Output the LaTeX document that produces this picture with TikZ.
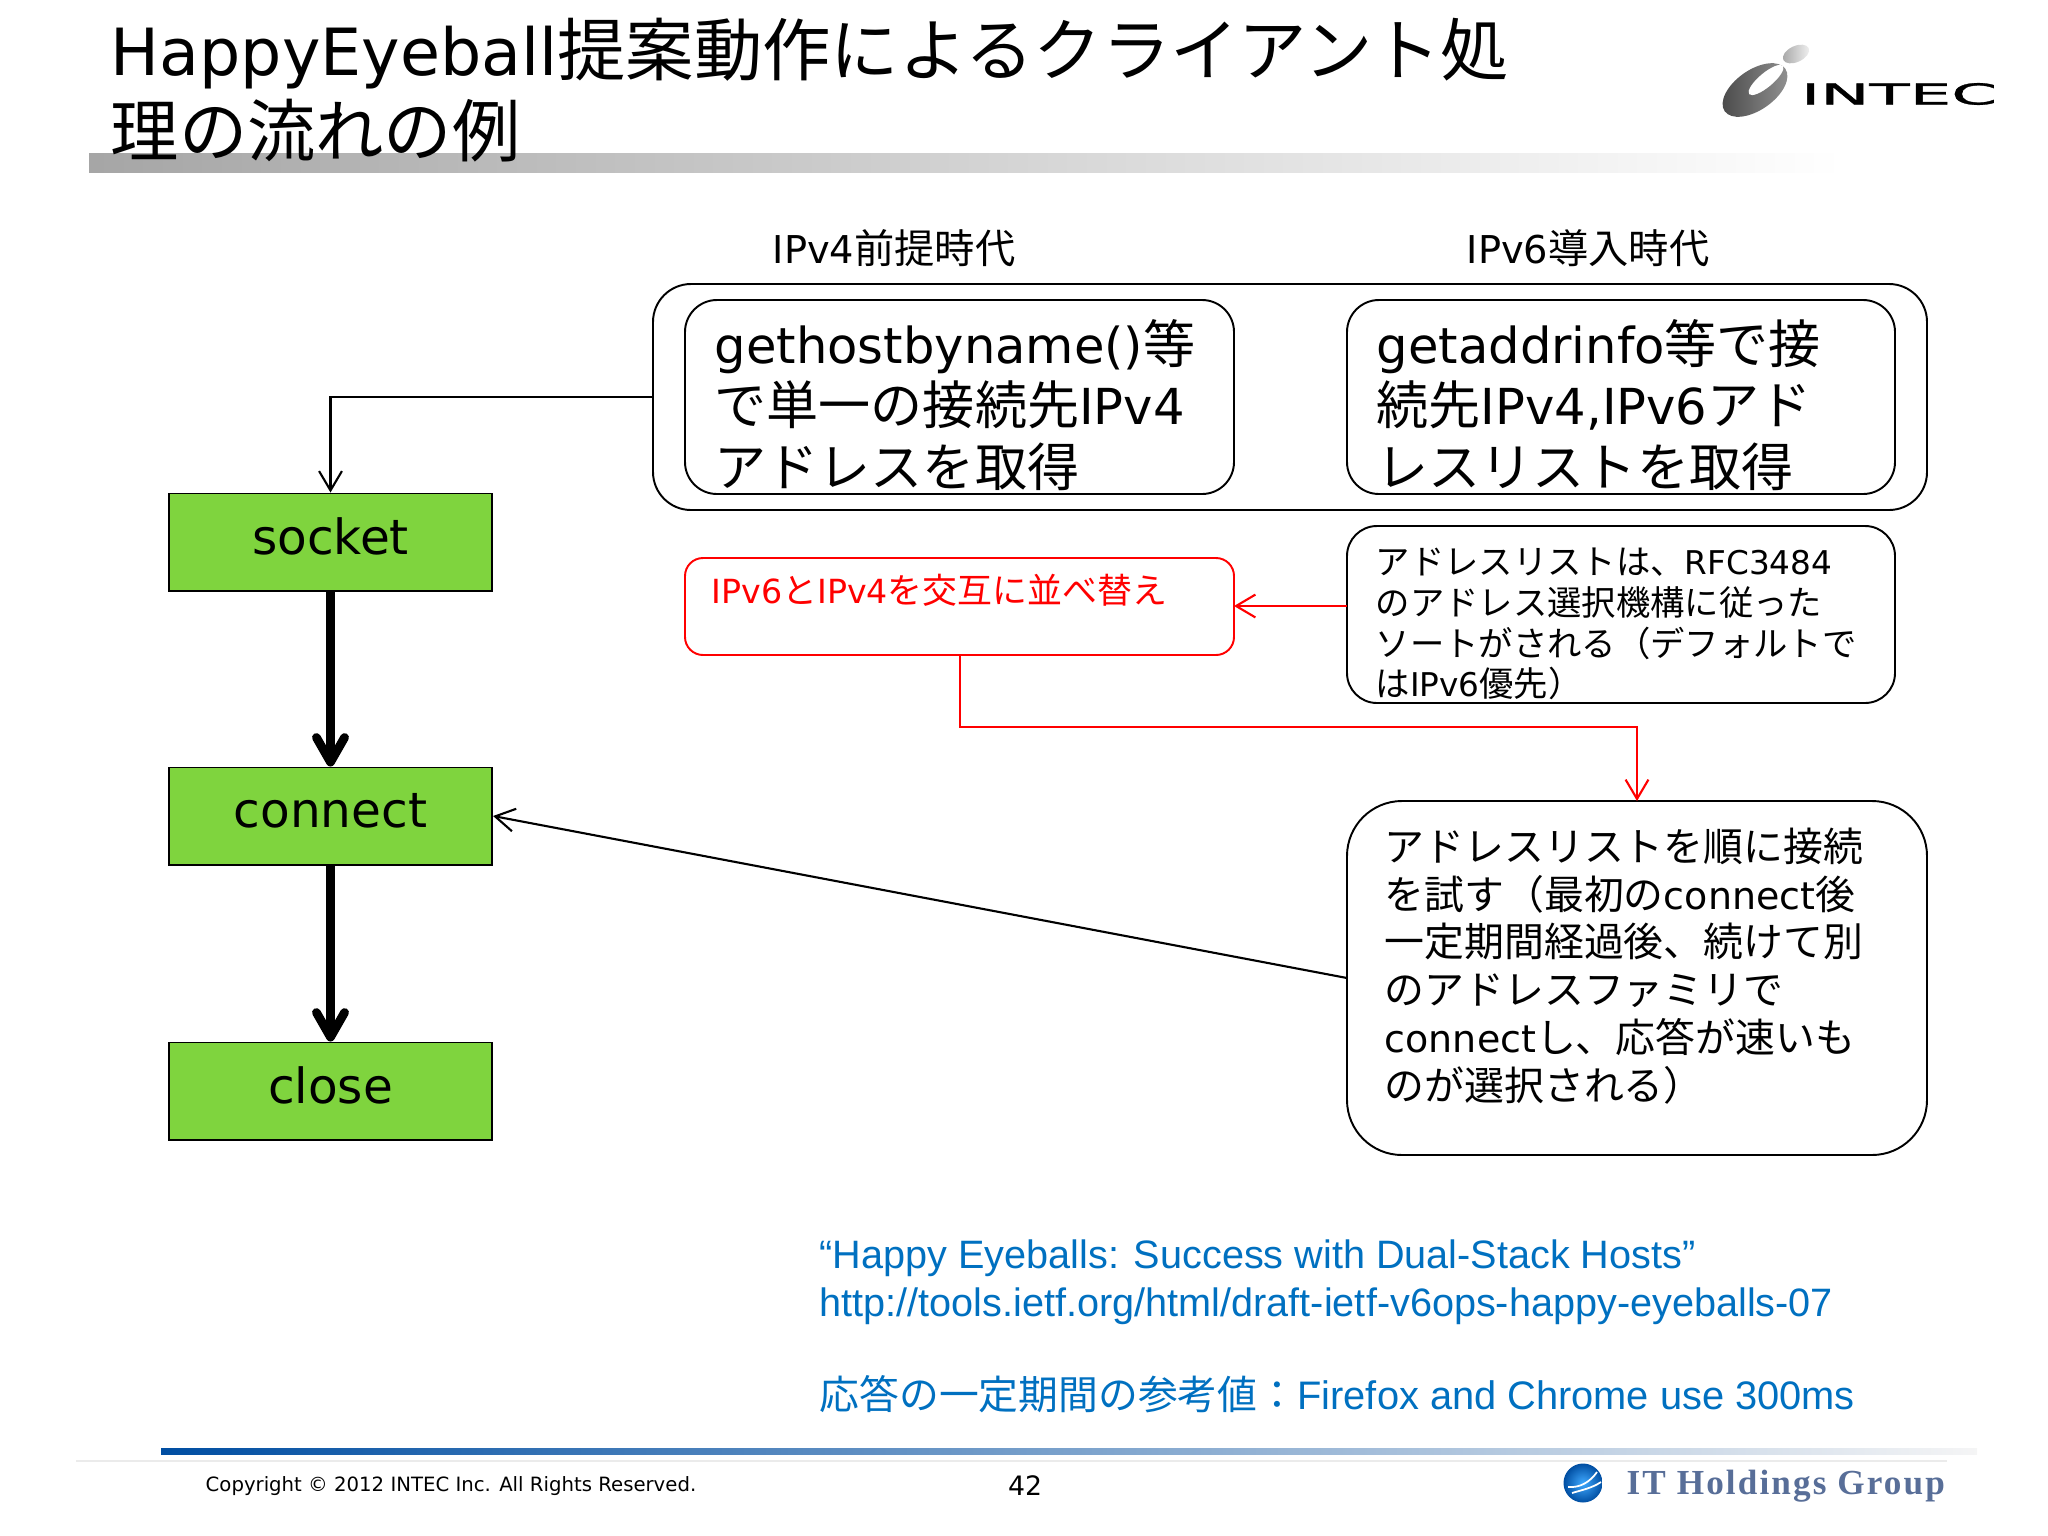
\documentclass[tikz,border=0pt]{standalone}
\usepackage{fontspec}
\usetikzlibrary{arrows.meta}
\setmainfont{DejaVu Sans}
\newfontfamily\cjk[Scale=1.05]{Noto Sans CJK JP}
\newfontfamily\cjkplain{Noto Sans CJK JP}
\newfontfamily\arialfont{Liberation Sans}
\newfontfamily\serifont{Liberation Serif}
\newcommand{\ja}[1]{{\cjk #1}}
\newcommand{\fs}[2]{\fontsize{#1}{#2}\selectfont}
\definecolor{boxgreen}{RGB}{127,212,62}
\definecolor{linkblue}{RGB}{0,112,192}
\definecolor{barblue}{RGB}{0,78,162}
\definecolor{holdblue}{RGB}{88,110,152}
\tikzset{
  callbox/.style={draw=black, line width=0.55pt, rounded corners=#1*0.01cm},
  callbox/.default=32,
  stepbox/.style={draw=black, fill=boxgreen, line width=0.55pt, minimum width=3.23cm, minimum height=0.97cm, text depth=0.12cm, font=\fs{13.8}{16}},
  caption/.style={anchor=west, align=left, inner sep=0pt},
  thinarrow/.style={line width=0.6pt, -{Straight Barb[length=5.5pt,width=6.5pt]}},
  fatarrow/.style={line width=2.5pt, -{Straight Barb[length=7pt,width=8pt,round]}},
}
\begin{document}
\begin{tikzpicture}[x=0.01cm,y=-0.01cm]
\useasboundingbox (0,0) rectangle (2048,1536);

% head and foot of the slide
\shade[left color=black!35, right color=white] (89,153) rectangle (1843,172);
\node[caption, font=\fs{18.5}{23}] (title) at (110,90) {HappyEyeball\ja{提案動作によるクライアント処}\\\ja{理の流れの例}};
\shade[left color=barblue, right color=blue!7!black!4] (161,1448) rectangle (1977,1454);
\draw[black!8, line width=0.4pt] (76,1461) -- (1947,1461);
\node[caption, font=\fs{5.6}{7}] (copyright) at (205,1486) {Copyright © 2012 INTEC Inc. All Rights Reserved.};
\node[font=\fs{7.6}{9}] (pageno) at (1025,1486) {42};

% logos
\shade[left color=black!72, right color=black!42, rotate around={35:(1755,90)}] (1755,90) ellipse (37 and 20);
\fill[white, rotate around={40:(1766,80)}] (1766,80) ellipse (22 and 7);
\shade[left color=black!35, right color=black!5, rotate around={25:(1796,54)}] (1796,54) ellipse (14 and 8);
\node[font=\fs{8.2}{10}] (intec) at (1899,94) {\scalebox{2.28}[1]{\addfontfeature{FakeBold=1}INTEC}};
\shade[inner color=cyan!55!blue!75, outer color=barblue] (1583,1483) circle (19.5);
\draw[white, line width=0.5pt] (1568,1487) .. controls (1580,1488) and (1590,1482) .. (1597,1472);
\draw[white, line width=0.5pt] (1572,1493) .. controls (1582,1490) and (1592,1488) .. (1601,1482);
\node[caption, text=holdblue, font=\fs{10}{12}] (holdings) at (1626,1486) {\serifont\bfseries\addfontfeature{LetterSpace=6}IT Holdings Group};

% era labels
\node[font=\fs{10.9}{13}] (v4era) at (894,248) {IPv4\ja{前提時代}};
\node[font=\fs{10.9}{13}] (v6era) at (1588,248) {IPv6\ja{導入時代}};

% api boxes
\draw[callbox=38] (653,284) rectangle (1927,510);
\coordinate (outerw) at (653,397);
\draw[callbox] (685,300) rectangle (1234,494);
\draw[callbox] (1347,300) rectangle (1895,494);
\node[caption, font=\fs{14.1}{17.5}] (v4text) at (714,405) {gethostbyname()\ja{等}\\\ja{で単一の接続先}IPv4\\\ja{アドレスを取得}};
\node[caption, font=\fs{14.1}{17.5}] (v6text) at (1376,405) {getaddrinfo\ja{等で接}\\\ja{続先}IPv4,IPv6\ja{アド}\\\ja{レスリストを取得}};

% middle row
\draw[callbox=18, draw=red] (685,558) rectangle (1234,655);
\coordinate (rede) at (1234,606);
\coordinate (reds) at (960,655);
\node[caption, text=red, font=\fs{9.45}{12}] (redtext) at (711,590) {IPv6\ja{と}IPv4\ja{を交互に並べ替え}};
\draw[callbox=30] (1347,526) rectangle (1895,703);
\coordinate (sortw) at (1347,606);
\node[caption, font=\fs{9.3}{11.6}] (sorttext) at (1375,624) {\ja{アドレスリストは、}RFC3484\\\ja{のアドレス選択機構に従った}\\\ja{ソートがされる（デフォルトで}\\\ja{は}IPv6\ja{優先）}};

% lower box
\draw[callbox=55] (1347,801) rectangle (1927,1155);
\coordinate (tryn) at (1637,801);
\coordinate (tryw) at (1347,978);
\coordinate (redbend) at (1637,727);
\node[caption, font=\fs{10.8}{13.6}] (trytext) at (1384,966) {\ja{アドレスリストを順に接続}\\\ja{を試す（最初の}connect\ja{後}\\\ja{一定期間経過後、続けて別}\\\ja{のアドレスファミリで}\\connect\ja{し、応答が速いも}\\\ja{のが選択される）}};

% call flow
\node[stepbox] (socket) at (330.5,542) {socket};
\node[stepbox] (connect) at (330.5,816) {connect};
\node[stepbox] (close) at (330.5,1091) {close};

\draw[fatarrow] (socket) -- (connect);
\draw[fatarrow] (connect) -- (close);
\draw[thinarrow] (outerw) -| (socket);
\draw[thinarrow, red] (sortw) -- (rede);
\draw[thinarrow, red] (reds) |- (redbend) -- (tryn);
\draw[thinarrow] (tryw) -- (connect.east);

% notes
\node[caption, text=linkblue, font=\fs{11.27}{13.8}\arialfont] (notes) at (819,1282) {“Happy Eyeballs: Success with Dual-Stack Hosts”\\http://tools.ietf.org/html/draft-ietf-v6ops-happy-eyeballs-07};
\node[caption, text=linkblue, font=\fs{11.32}{13.8}\arialfont] (firefox) at (819,1394) {{\cjkplain 応答の一定期間の参考値：}Firefox and Chrome use 300ms};
\end{tikzpicture}
\end{document}
